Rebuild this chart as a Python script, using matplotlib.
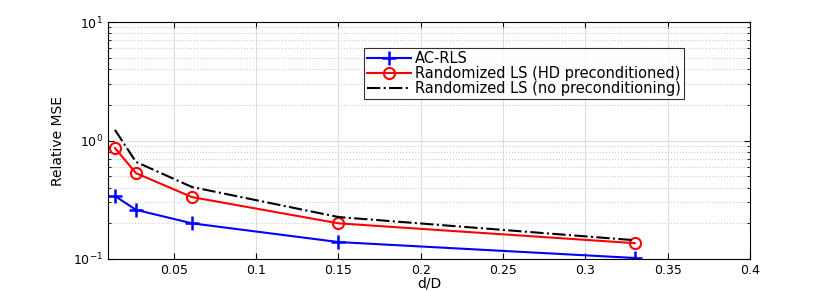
import matplotlib
matplotlib.use("Agg")
import matplotlib.pyplot as plt
from matplotlib.ticker import LogLocator, NullFormatter

plt.rcParams['font.family'] = ['DejaVu Sans']
plt.rcParams['mathtext.fontset'] = 'dejavusans'

x = [0.0142, 0.027, 0.061, 0.15, 0.33]
ac_rls = [0.34, 0.26, 0.20, 0.139, 0.102]
hd = [0.865, 0.53, 0.333, 0.20, 0.136]
nopre = [1.23, 0.66, 0.405, 0.226, 0.144]
xticks = [0.05, 0.1, 0.15, 0.2, 0.25, 0.3, 0.35, 0.4]
xticklabels = ['0.05', '0.1', '0.15', '0.2', '0.25', '0.3', '0.35', '0.4']

fig = plt.figure(figsize=(8.30, 2.91), dpi=100)
ax = fig.add_axes([108/830, 1-259/291, (750-108)/830, (259-22)/291])

ax.plot(x, ac_rls, color='#0000ff', marker='+', markersize=10, markeredgewidth=1.8, lw=1.5, label='AC-RLS')
ax.plot(x, hd, color='#ff0000', marker='o', markersize=8, markerfacecolor='none', markeredgewidth=1.5, lw=1.5,
        label='Randomized LS (HD preconditioned)')
ax.plot(x, nopre, color='black', linestyle='-.', lw=1.5, label='Randomized LS (no preconditioning)')

ax.set_yscale('log')
ax.set_xlim(0.01, 0.4)
ax.set_ylim(0.1, 10)
ax.set_xticks(xticks)
ax.set_xticklabels(xticklabels)
ax.yaxis.set_minor_locator(LogLocator(base=10, subs=range(2, 10)))
ax.yaxis.set_minor_formatter(NullFormatter())
ax.set_yticks([0.1, 1, 10])
ax.set_yticklabels(['$10^{-1}$', '$10^{0}$', '$10^{1}$'])

ax.grid(True, which='major', color='#dddddd', lw=0.8, linestyle='-')
ax.grid(True, which='minor', axis='y', color='#cccccc', lw=0.8, linestyle=':')
ax.set_axisbelow(True)

ax.tick_params(which='both', direction='in', labelsize=9, top=True, right=True)
ax.tick_params(which='major', length=4)
ax.tick_params(which='minor', length=2.5)
for s in ax.spines.values():
    s.set_linewidth(0.8)

ax.set_xlabel('d/D', fontsize=10, labelpad=0)
ax.set_ylabel('Relative MSE', fontsize=10, labelpad=6)

leg = ax.legend(loc='upper left', bbox_to_anchor=((364-108)/642, 1-(48-22)/237), fontsize=10.5,
                frameon=True, fancybox=False, edgecolor='black', borderpad=0.2,
                labelspacing=0.0, handlelength=3.0, handletextpad=0.3, borderaxespad=0)
leg.get_frame().set_linewidth(0.8)

fig.savefig('out.png', dpi=100)
